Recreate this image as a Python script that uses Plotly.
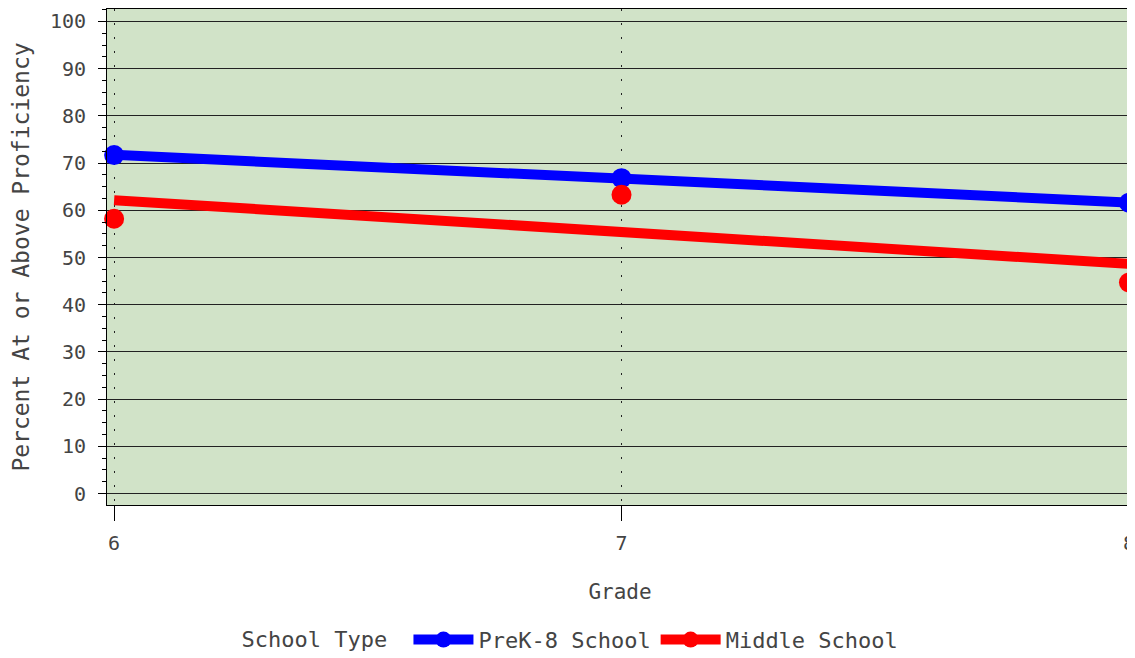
import numpy as np
import plotly.graph_objects as go

grades = [6, 7, 8]
prek8 = [71.7, 66.8, 61.6]
middle = [58.2, 63.3, 44.7]
series_names = ["PreK-8 School", "Middle School"]
colors = ["#0000FF", "#FF0000"]

FONT = "DejaVu Sans Mono"
TXT = "#444444"

fig = go.Figure()
for name, vals, col in zip(series_names, [prek8, middle], colors):
    slope, icpt = np.polyfit(grades, vals, 1)
    xs = [grades[0], grades[-1]]
    ys = [icpt + slope * x for x in xs]
    fig.add_trace(go.Scatter(x=xs, y=ys, mode="lines", line=dict(color=col, width=10),
                             showlegend=False, hoverinfo="skip", cliponaxis=False))
    fig.add_trace(go.Scatter(x=grades, y=vals, mode="markers",
                             marker=dict(color=col, size=20, line=dict(width=0)),
                             showlegend=False, cliponaxis=False))
    fig.add_trace(go.Scatter(x=[None], y=[None], mode="lines+markers", name=name,
                             line=dict(color=col, width=10),
                             marker=dict(color=col, size=18)))

# page body has an 8px margin; size the figure so it fills the window exactly
fig.update_layout(
    width=1127, height=650,
    margin=dict(l=99, r=0, t=0, b=153),
    plot_bgcolor="#D1E3C8",
    paper_bgcolor="white",
    font=dict(family=FONT, color=TXT, size=20),
    legend=dict(orientation="h", xref="container", x=0.5, xanchor="center",
                yref="container", y=0.028, yanchor="middle",
                title=dict(text="School Type ", side="left", font=dict(size=22, family=FONT, color=TXT)),
                font=dict(size=22, family=FONT, color=TXT), itemwidth=60,
                bgcolor="rgba(0,0,0,0)"),
)
fig.update_xaxes(
    range=[5.986, 8.008], tickvals=grades, ticktext=[str(g) for g in grades],
    ticks="outside", ticklen=15, tickcolor="black", tickwidth=1,
    ticklabelstandoff=5, ticklabeloverflow="allow",
    showline=True, linecolor="black", linewidth=1, mirror=True,
    showgrid=True, gridcolor="#222222", gridwidth=1, griddash="2px,12px",
    zeroline=False,
    title=dict(text="Grade", font=dict(size=21, family=FONT, color=TXT), standoff=30),
    tickfont=dict(size=20, family=FONT, color=TXT),
)
fig.update_yaxes(
    range=[-2.43, 102.64], tick0=0, dtick=10,
    ticks="outside", ticklen=8, tickcolor="black", tickwidth=1,
    ticklabelstandoff=8,
    minor=dict(dtick=2.5, ticks="outside", ticklen=4, tickcolor="black", showgrid=False),
    showline=True, linecolor="black", linewidth=1, mirror=True,
    showgrid=True, gridcolor="#222222", gridwidth=1,
    zeroline=False,
    title=dict(text="Percent At or Above Proficiency", font=dict(size=23, family=FONT, color=TXT), standoff=22),
    tickfont=dict(size=20, family=FONT, color=TXT),
)

fig.write_html("out.html")
